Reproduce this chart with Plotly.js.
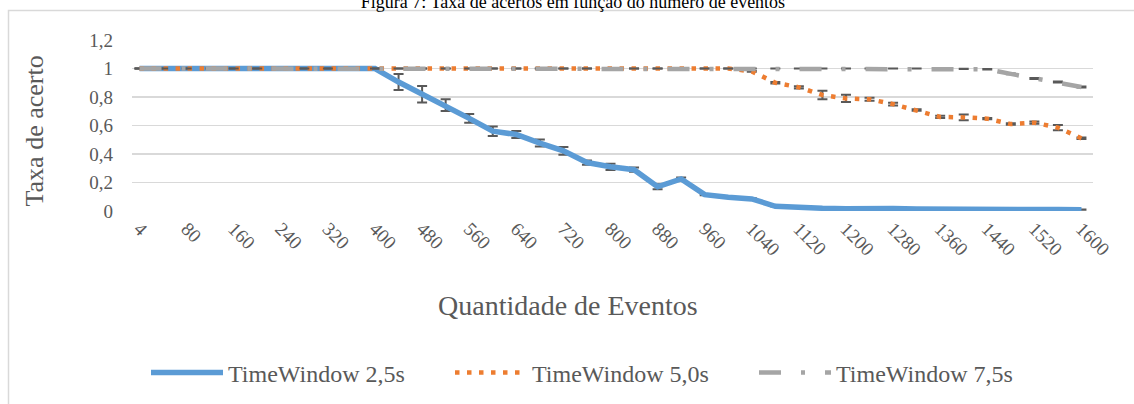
<!DOCTYPE html>
<html>
<head>
<meta charset="utf-8">
<script src="https://cdn.plot.ly/plotly-3.0.1.min.js"></script>
<style>
  html, body { margin: 0; padding: 0; background: #fff; }
  #chart { width: 1134px; height: 404px; }
</style>
</head>
<body>
<div id="chart"></div>
<script>
// ---- data ----
const categories = ['4','40','80','120','160','200','240','280','320','360','400','440','480','520','560','600','640','680','720','760','800','840','880','920','960','1000','1040','1080','1120','1160','1200','1240','1280','1320','1360','1400','1440','1480','1520','1560','1600'];
const tickLabels = ['4','80','160','240','320','400','480','560','640','720','800','880','960','1040','1120','1200','1280','1360','1440','1520','1600'];

const seriesNames = ['TimeWindow 2,5s', 'TimeWindow 5,0s', 'TimeWindow 7,5s'];

const tw25 = [1,1,1,1,1,1,1,1,1,1,1,0.905,0.82,0.743,0.65,0.56,0.537,0.477,0.422,0.34,0.31,0.29,0.17,0.225,0.115,0.097,0.085,0.033,0.022,0.019,0.016,0.019,0.017,0.014,0.015,0.013,0.012,0.011,0.010,0.010,0.009];
const tw25err = [0,0,0,0,0,0,0,0,0,0,0,0.056,0.058,0.041,0.03,0.033,0.025,0.025,0.028,0.015,0.022,0.015,0.018,0.01,0.005,0.004,0.004,0.002,0.001,0.001,0.001,0.001,0.001,0.001,0.001,0.001,0.001,0.001,0.001,0.001,0.001];

const tw50 = [1,1,1,1,1,1,1,1,1,1,1,1,1,1,1,1,1,1,1,1,1,1,1,1,1,1,0.98,0.90,0.868,0.814,0.79,0.784,0.75,0.709,0.66,0.657,0.648,0.61,0.62,0.585,0.51];
const tw50err = [0,0,0,0,0,0,0,0,0,0,0,0,0,0,0,0,0,0,0,0,0,0,0,0,0,0,0.003,0.005,0.008,0.03,0.025,0.01,0.01,0.005,0.008,0.02,0.005,0.005,0.008,0.018,0.005];

const tw75 = [1,1,1,1,1,1,1,1,1,1,1,1,1,1,1,1,1,1,1,1,1,1,1,1,1,1,1,1,1,1,1,1,1,1,1,0.998,0.995,0.962,0.93,0.905,0.87];
const tw75err = [0,0,0,0,0,0,0,0,0,0,0,0,0,0,0,0,0,0,0,0,0,0,0,0,0,0,0,0,0,0,0,0,0,0,0,0.001,0.002,0.003,0.003,0.003,0.003];

const colors = ['#5B9BD5', '#ED7D31', '#A5A5A5'];

// ---- styles ----
const FONT = '"Liberation Serif", "Times New Roman", serif';
const TXT = '#595959';
const errStyle = { color: '#595959', thickness: 2, width: 5 };

function trace(name, y, err, color, width, dash) {
  return {
    type: 'scatter', mode: 'lines', name: name,
    x: categories, y: y,
    line: { color: color, width: width, dash: dash },
    error_y: Object.assign({ type: 'data', array: err, visible: true }, errStyle),
    hoverinfo: 'x+y+name'
  };
}

const data = [
  trace(seriesNames[0], tw25, tw25err, colors[0], 5.5, 'solid'),
  trace(seriesNames[1], tw50, tw50err, colors[1], 4.5, '4.5px,7.5px'),
  trace(seriesNames[2], tw75, tw75err, colors[2], 4.5, '22px,20px,4px,20px')
];

const L = 132, R = 41, T = 40, B = 193;
const W = 1134 - L - R, H = 404 - T - B;
const px = (x) => (x - L) / W;
const py = (y) => (404 - B - y) / H;

const ITEMW = 72;

const layout = {
  width: 1134, height: 404,
  margin: { l: L, r: R, t: T, b: B, pad: 0, autoexpand: false },
  paper_bgcolor: '#fff', plot_bgcolor: '#fff',
  separators: ',.',
  font: { family: FONT, color: TXT, size: 19 },
  title: {
    text: 'Figura 7: Taxa de acertos em função do número de eventos',
    font: { family: FONT, size: 18, color: '#000' },
    xref: 'container', yref: 'container',
    x: 573 / 1134, xanchor: 'center',
    y: 1 - 8 / 404, yanchor: 'bottom'
  },
  xaxis: {
    type: 'category',
    range: [-0.32, 40.49],
    tickmode: 'array', tickvals: tickLabels, ticktext: tickLabels,
    tickangle: 45,
    ticks: '', showgrid: false, zeroline: false,
    showline: false,
    ticklabelstandoff: 2,
    tickfont: { family: FONT, size: 19, color: TXT },
    fixedrange: true
  },
  yaxis: {
    range: [0, 1.2], dtick: 0.2, tick0: 0,
    showgrid: true, gridcolor: '#d9d9d9', gridwidth: 1.3,
    zeroline: false, showline: false, ticks: '',
    ticklabelstandoff: 18,
    tickfont: { family: FONT, size: 19, color: TXT },
    fixedrange: true
  },
  showlegend: true,
  legend: {
    orientation: 'h',
    x: px(228 - ITEMW - 10), xanchor: 'left',
    y: py(373), yanchor: 'middle',
    font: { family: FONT, size: 24, color: TXT },
    entrywidth: 304 - ITEMW - 15, entrywidthmode: 'pixels',
    itemwidth: ITEMW,
    bgcolor: 'rgba(0,0,0,0)'
  },
  annotations: [
    {
      text: 'Taxa de acerto', textangle: -90,
      xref: 'paper', yref: 'paper', x: px(34), y: py(131.5),
      xanchor: 'center', yanchor: 'middle', showarrow: false,
      font: { family: FONT, size: 26, color: TXT }
    },
    {
      text: 'Quantidade de Eventos',
      xref: 'paper', yref: 'paper', x: px(568), y: py(305),
      xanchor: 'center', yanchor: 'middle', showarrow: false,
      font: { family: FONT, size: 28, color: TXT }
    }
  ],
  shapes: [
    {
      type: 'rect', xref: 'paper', yref: 'paper', layer: 'below',
      x0: px(8.5), x1: px(1160), y0: py(430), y1: py(10.5),
      line: { color: '#d9d9d9', width: 1.5 }, fillcolor: 'rgba(0,0,0,0)'
    }
  ]
};

Plotly.newPlot('chart', data, layout, { displayModeBar: false, staticPlot: true });
</script>
</body>
</html>
